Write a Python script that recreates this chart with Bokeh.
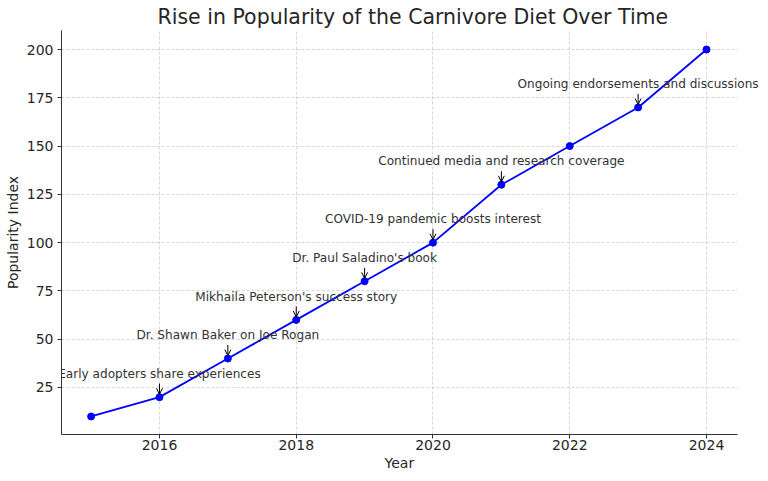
from bokeh.plotting import figure
from bokeh.models import ColumnDataSource, Arrow, OpenHead, Range1d, FixedTicker, Title, LabelSet
from bokeh.core.properties import value
from bokeh.embed import file_html
from bokeh.resources import INLINE

years = [2015, 2016, 2017, 2018, 2019, 2020, 2021, 2022, 2023, 2024]
popularity = [10, 20, 40, 60, 80, 100, 130, 150, 170, 200]

event_years = [2016, 2017, 2018, 2019, 2020, 2021, 2023]
event_texts = [
    "Early adopters share experiences",
    "Dr. Shawn Baker on Joe Rogan",
    "Mikhaila Peterson's success story",
    "Dr. Paul Saladino's book",
    "COVID-19 pandemic boosts interest",
    "Continued media and research coverage",
    "Ongoing endorsements and discussions",
]

x_ticks = [2016, 2018, 2020, 2022, 2024]
y_ticks = [25, 50, 75, 100, 125, 150, 175, 200]

FONT = "DejaVu Sans"

X_LO, X_HI = 2014.567, 2024.453      # visible axes extent
X_CANVAS_HI = 2024.863               # extra room so the last annotation is not clipped
Y_LO, Y_HI = 0.665, 209.84

lookup = dict(zip(years, popularity))
event_vals = [lookup[y] for y in event_years]

p = figure(width=768, height=481, output_backend="svg", toolbar_location=None,
           x_range=Range1d(X_LO, X_CANVAS_HI), y_range=Range1d(Y_LO, Y_HI),
           min_border_left=61, min_border_right=3, min_border_bottom=47, min_border_top=0)

p.title = Title(text="Rise in Popularity of the Carnivore Diet Over Time",
                text_font=FONT, text_font_size="20.5px", text_font_style="normal",
                text_color="#262626", align="left", offset=96, standoff=4)

p.add_layout(Title(text="Year", text_font=FONT, text_font_size="14px",
                   text_font_style="normal", text_color="#262626",
                   align="left", offset=323, standoff=0), "below")

p.outline_line_color = None
p.background_fill_color = "white"
p.border_fill_color = "white"

for ax in (p.xaxis, p.yaxis):
    ax.axis_line_color = "#333333"
    ax.axis_line_width = 1
    ax.major_tick_line_color = "#333333"
    ax.major_tick_out = 4
    ax.major_tick_in = 0
    ax.minor_tick_line_color = None
    ax.major_label_text_font = FONT
    ax.major_label_text_font_size = "14px"
    ax.major_label_text_color = "#262626"
    ax.axis_label_text_font = FONT
    ax.axis_label_text_font_size = "14px"
    ax.axis_label_text_font_style = "normal"
    ax.axis_label_text_color = "#262626"

p.xaxis.ticker = FixedTicker(ticks=x_ticks)
p.yaxis.ticker = FixedTicker(ticks=y_ticks)
p.xaxis.bounds = (X_LO, X_HI)
p.yaxis.axis_label = "Popularity Index"
p.xaxis.major_label_standoff = 1
p.yaxis.major_label_standoff = 4
p.yaxis.axis_label_standoff = 3

for g in (p.xgrid, p.ygrid):
    g.grid_line_color = "#cccccc"
    g.grid_line_dash = "3 2"
    g.grid_line_width = 0.8
p.ygrid.cross_bounds = (X_LO, X_HI)

src = ColumnDataSource(dict(x=years, y=popularity))
p.line("x", "y", source=src, line_color="blue", line_width=1.8)
p.scatter("x", "y", source=src, size=7, fill_color="blue", line_color="blue")

ev = ColumnDataSource(dict(
    x=event_years,
    ty=[v + 10 for v in event_vals],
    ys=[v + 7 for v in event_vals],
    ye=[v + 1.5 for v in event_vals],
    t=event_texts,
))
p.add_layout(LabelSet(x="x", y="ty", text="t", source=ev, text_align="center",
                      text_baseline="alphabetic", text_font=value(FONT),
                      text_font_size="12.1px", text_color="#333333"))
p.add_layout(Arrow(end=OpenHead(size=6, line_color="black", line_width=1),
                   x_start="x", y_start="ys", x_end="x", y_end="ye",
                   source=ev, line_color="black", line_width=1))

open("out.html", "w").write(file_html(p, INLINE))
